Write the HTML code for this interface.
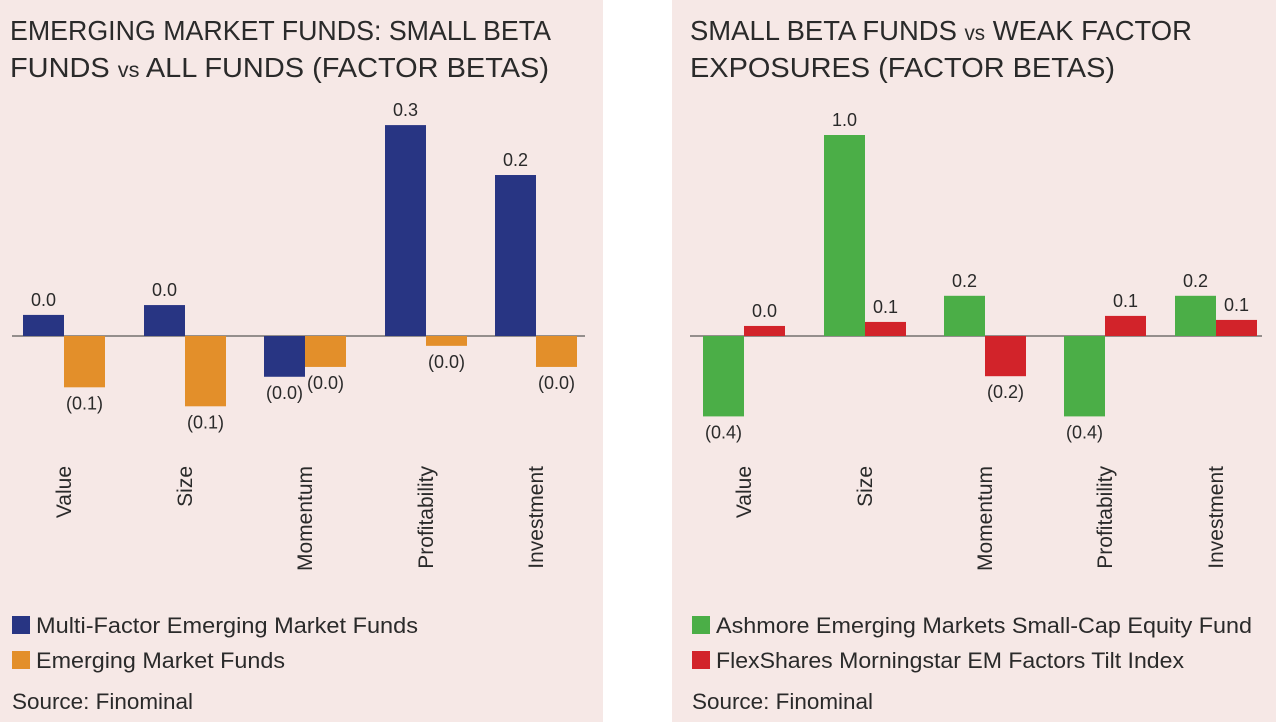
<!DOCTYPE html>
<html><head><meta charset="utf-8"><style>
body{margin:0;width:1276px;height:722px;background:#fff;overflow:hidden;font-family:"Liberation Sans",sans-serif}
svg text{font-family:"Liberation Sans",sans-serif;fill:#2a2a2a}
</style></head><body>
<svg id="s" width="1276" height="722">
<rect x="0" y="0" width="603" height="722" fill="#f6e8e6"/>
<rect x="672" y="0" width="604" height="722" fill="#f6e8e6"/>
<text x="10" y="40" font-size="28" textLength="541" lengthAdjust="spacingAndGlyphs">EMERGING MARKET FUNDS: SMALL BETA</text>
<text x="10" y="77" font-size="28" textLength="539" lengthAdjust="spacingAndGlyphs">FUNDS <tspan font-size="21">vs</tspan> ALL FUNDS (FACTOR BETAS)</text>
<text x="690" y="40" font-size="28" textLength="502" lengthAdjust="spacingAndGlyphs">SMALL BETA FUNDS <tspan font-size="21">vs</tspan> WEAK FACTOR</text>
<text x="690" y="77" font-size="28" textLength="425" lengthAdjust="spacingAndGlyphs">EXPOSURES (FACTOR BETAS)</text>
<rect x="12" y="616" width="18" height="18" fill="#283583"/>
<text x="36" y="633" font-size="22" textLength="382" lengthAdjust="spacingAndGlyphs">Multi-Factor Emerging Market Funds</text>
<rect x="12" y="651" width="18" height="18" fill="#e38f2a"/>
<text x="36" y="668" font-size="22" textLength="249" lengthAdjust="spacingAndGlyphs">Emerging Market Funds</text>
<text x="12" y="709" font-size="22" textLength="181" lengthAdjust="spacingAndGlyphs">Source: Finominal</text>
<rect x="692" y="616" width="18" height="18" fill="#4bae47"/>
<text x="716" y="633" font-size="22" textLength="536" lengthAdjust="spacingAndGlyphs">Ashmore Emerging Markets Small-Cap Equity Fund</text>
<rect x="692" y="651" width="18" height="18" fill="#d2232a"/>
<text x="716" y="668" font-size="22" textLength="468" lengthAdjust="spacingAndGlyphs">FlexShares Morningstar EM Factors Tilt Index</text>
<text x="692" y="709" font-size="22" textLength="181" lengthAdjust="spacingAndGlyphs">Source: Finominal</text>
</svg>
<script>
const categories=["Value","Size","Momentum","Profitability","Investment"];
const leftA=[0.03,0.044,-0.058,0.30,0.229];
const leftB=[-0.073,-0.10,-0.044,-0.014,-0.044];
const leftALabels=["0.0","0.0","(0.0)","0.3","0.2"];
const leftBLabels=["(0.1)","(0.1)","(0.0)","(0.0)","(0.0)"];
const rightA=[-0.4,1.0,0.2,-0.4,0.2];
const rightB=[0.05,0.07,-0.2,0.1,0.08];
const rightALabels=["(0.4)","1.0","0.2","(0.4)","0.2"];
const rightBLabels=["0.0","0.1","(0.2)","0.1","0.1"];
const NS="http://www.w3.org/2000/svg",svg=document.getElementById('s');
function mk(t,a){const e=document.createElementNS(NS,t);for(const k in a)e.setAttribute(k,a[k]);svg.appendChild(e);return e;}
function chart(side,x0,x1,centers,A,B,AL,BL,scale,cA,cB){
 const zero=336,y=v=>zero-v*scale,bw=41;
 const ln=mk('line',{x1:x0,x2:x1,y1:zero,y2:zero,stroke:'#333','stroke-width':1});
 
 
 categories.forEach((c,i)=>{
  [[A,AL,cA,-bw,'a'],[B,BL,cB,0,'b']].forEach(([vals,labs,col,off,k])=>{
   const v=vals[i],top=Math.min(y(v),zero),h=Math.abs(y(v)-zero);
   const r=mk('rect',{x:centers[i]+off,y:top,width:bw,height:h,fill:col});
   
   
   const ly=v>=0?top-9:top+h+22;
   const t=mk('text',{x:centers[i]+off+bw/2,y:ly,'font-size':18,'text-anchor':'middle'});
   t.textContent=labs[i];
   
   
  });
  const ct=mk('text',{x:0,y:0,'font-size':21,'text-anchor':'end',transform:`translate(${centers[i]+7},466) rotate(-90)`});
  ct.textContent=c;
  
  
 });
}
chart('left',12,585,[64,185,305,426,536],leftA,leftB,leftALabels,leftBLabels,703,'#283583','#e38f2a');
chart('right',690,1262,[744,865,985,1105,1216],rightA,rightB,rightALabels,rightBLabels,201,'#4bae47','#d2232a');
</script>
</body></html>
